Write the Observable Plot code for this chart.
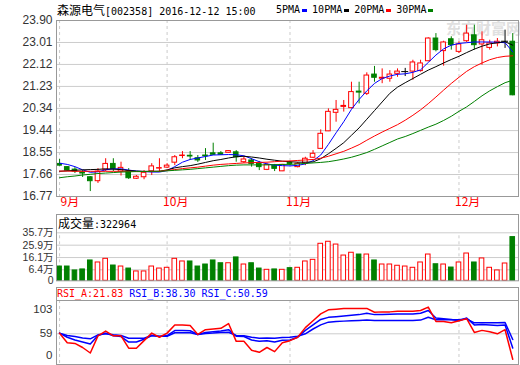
<!DOCTYPE html>
<html><head><meta charset="utf-8">
<script src="https://cdn.jsdelivr.net/npm/d3@7"></script>
<script src="https://cdn.jsdelivr.net/npm/@observablehq/plot@0.6"></script>
<style>
html,body{margin:0;padding:0;background:#fff;}
#chart{position:relative;width:520px;height:365px;overflow:hidden;background:#fff;}
#chart svg{position:absolute;left:0;overflow:visible;}
.t{position:absolute;white-space:nowrap;font-family:"DejaVu Sans Mono",monospace;font-size:10px;line-height:14px;color:#000;}
.cjk{font-family:"Noto Sans CJK SC",sans-serif;font-size:12px;}
.mk{display:inline-block;width:5px;height:3px;margin:0 5px 0 2px;vertical-align:middle;}
.box{position:absolute;border:1px solid #999;box-sizing:border-box;}
.wm{position:absolute;font-family:"Noto Sans CJK SC",sans-serif;font-weight:bold;font-size:15px;color:#e0e0e0;white-space:nowrap;}
</style></head>
<body><div id="chart"></div>
<script>
// ---------- data ----------
const stockName = "森源电气";
const stockInfo = "[002358] 2016-12-12 15:00";
const maNames = ["5PMA", "10PMA", "20PMA", "30PMA"];
const monthLabels = ["9月", "10月", "11月", "12月"];
const monthStart = [0, 14, 30, 52];
const priceTicks = [23.90, 23.01, 22.12, 21.23, 20.34, 19.44, 18.55, 17.66, 16.77];

const opens  = [18.09,17.96,17.86,17.74,17.55,17.39,17.85,18.09,17.78,17.78,17.49,17.55,17.79,17.90,17.94,18.14,18.41,18.42,18.32,18.43,18.52,18.52,18.54,18.56,18.16,18.23,18.09,17.85,18.02,17.79,18.14,17.96,18.11,18.34,18.70,19.41,20.16,20.40,20.35,21.02,20.93,21.71,21.54,21.54,21.74,21.83,21.83,21.85,22.25,23.17,22.66,23.14,22.63,23.06,23.30,22.93,22.79,22.97,23.06,23.04];
const highs  = [18.27,17.98,17.94,17.82,17.58,17.90,18.30,18.30,18.16,17.90,17.62,17.82,18.10,18.30,18.10,18.43,18.59,18.59,18.43,18.71,18.93,18.59,18.63,18.63,18.39,18.31,18.19,18.11,18.07,18.07,18.19,18.15,18.36,18.63,19.47,20.32,20.66,20.66,21.40,21.40,21.78,22.04,21.94,21.87,21.94,21.96,22.29,22.29,23.20,23.37,23.06,23.24,23.04,23.71,23.71,23.44,23.10,23.17,23.51,23.37];
const lows   = [18.00,17.78,17.70,17.54,16.97,17.30,17.78,17.78,17.60,17.46,17.46,17.45,17.62,17.75,17.90,18.02,18.30,18.23,18.15,18.23,18.43,18.43,18.53,18.16,18.11,17.96,17.82,17.82,17.78,17.78,18.02,17.93,18.02,18.31,18.70,19.40,19.78,20.19,20.32,20.52,20.86,21.40,21.34,21.40,21.60,21.63,21.48,21.81,22.23,22.63,22.05,22.70,22.56,23.01,22.70,22.09,22.70,22.83,22.77,20.85];
const closes = [18.02,17.82,17.78,17.70,17.39,17.78,18.09,17.89,17.93,17.51,17.57,17.73,17.99,17.92,18.02,18.36,18.43,18.39,18.23,18.40,18.46,18.46,18.61,18.36,18.27,18.09,17.96,18.05,17.89,18.05,18.09,18.09,18.30,18.50,19.31,20.20,20.28,20.44,21.00,20.98,21.67,21.58,21.58,21.71,21.83,21.83,22.20,22.16,23.17,22.70,23.01,22.90,22.93,23.37,22.90,23.10,22.97,23.04,23.06,20.87];

const ma5  = [18.12,18.07,17.98,17.85,17.75,17.77,17.85,17.89,17.89,17.84,17.80,17.78,17.76,17.76,17.82,17.98,18.16,18.27,18.33,18.39,18.45,18.46,18.47,18.46,18.42,18.30,18.18,18.09,18.04,18.02,18.01,18.03,18.09,18.22,18.45,18.88,19.35,19.80,20.30,20.70,21.05,21.35,21.55,21.65,21.72,21.74,21.80,21.90,22.20,22.50,22.75,22.90,22.97,23.00,23.03,23.03,23.03,23.02,23.00,22.63];
const ma10 = [17.79,17.81,17.83,17.85,17.86,17.87,17.89,17.88,17.86,17.82,17.80,17.79,17.79,17.79,17.85,17.93,17.98,18.02,18.08,18.15,18.22,18.27,18.33,18.38,18.40,18.37,18.33,18.28,18.24,18.20,18.18,18.16,18.16,18.17,18.30,18.50,18.72,18.95,19.25,19.55,19.90,20.25,20.60,20.95,21.20,21.38,21.55,21.72,21.89,22.03,22.18,22.32,22.45,22.60,22.74,22.86,22.95,23.00,23.04,22.90];
const ma20 = [17.80,17.80,17.79,17.79,17.79,17.79,17.79,17.79,17.79,17.79,17.78,17.78,17.78,17.79,17.83,17.86,17.90,17.93,17.96,18.00,18.04,18.07,18.09,18.11,18.13,18.14,18.15,18.16,18.18,18.20,18.21,18.23,18.25,18.27,18.32,18.40,18.50,18.60,18.73,18.87,19.05,19.22,19.38,19.53,19.68,19.86,20.06,20.28,20.53,20.80,21.08,21.35,21.60,21.84,22.03,22.18,22.31,22.40,22.45,22.47];
const ma30 = [17.53,17.57,17.60,17.64,17.67,17.70,17.72,17.74,17.76,17.77,17.78,17.78,17.79,17.79,17.81,17.83,17.85,17.87,17.90,17.93,17.96,17.99,18.02,18.04,18.05,18.05,18.05,18.05,18.06,18.07,18.07,18.09,18.11,18.13,18.15,18.18,18.23,18.29,18.36,18.45,18.55,18.68,18.82,18.96,19.10,19.20,19.32,19.45,19.58,19.70,19.85,20.02,20.22,20.40,20.62,20.85,21.05,21.22,21.38,21.48];

const volumes = [9.0,9.0,5.9,6.7,13.8,12.2,15.1,9.8,9.0,7.4,5.1,5.1,9.0,7.4,8.0,15.1,13.0,13.0,9.0,10.6,13.8,11.6,11.6,16.2,10.6,11.6,7.4,6.4,6.7,6.4,7.7,8.0,13.0,14.3,27.0,28.6,26.4,17.7,19.9,18.5,18.5,13.8,10.6,10.6,9.6,9.0,8.0,12.2,18.5,10.8,10.6,8.2,12.2,19.3,12.2,15.4,8.0,5.9,11.4,32.3];
const volTicks = [35.7, 25.9, 16.1, 6.4];
const volTickLabels = ["35.7万", "25.9万", "16.1万", "6.4万"];
const volTitle = "成交量";
const volLast = ":322964";

const rsiA = [59.9,46,45,39,31,56,63,56,56,38,38,49,60,54,60,72,72,71,58,65,66,67,74,48,48,35,32,39,33,46,49,54,68,78,88,94,95,96,96,96,96,90.5,91,91,92,92,92,93,98,77,77,75,78,81,61,64,62,59,65,21.83];
const rsiB = [59.9,54,50,47,44,56.5,60,56,55,47,47,51,56.5,55,56.5,63.8,63.8,63.5,58,61,62,63,65,55.5,55,50,48,49,47,49.5,50,54,64,72,80,83,84,85,86,87,89,87,87,87.5,88,88,88,89,93,82,81,80,78,82,72,72.5,72,71,72,38.30];
const rsiC = [59.9,56.5,55,53,51.7,57.5,59,57.5,56.5,52.6,52.6,52.6,56.5,55.5,55.5,60.5,60.5,60.5,58,59.5,60,61,61.3,56.5,56,54,52.6,53,52.6,53.5,54,55.5,59,66,72,76,77,77.5,78,78.4,79,78.4,78.4,78.4,78.4,78.4,78.4,79,83.2,79.4,79.4,79.4,79.4,80.9,75,75,75,75,75.5,50.59];
const rsiNames = ["RSI_A", "RSI_B", "RSI_C"];
const rsiLast = ["21.83", "38.30", "50.59"];
const rsiTicks = [103, 59, 0];

// ---------- styles ----------
const RED = "#ff0000", GREEN = "#008000", BLUE = "#0000ff", BLACK = "#000000";
const maColors = [BLUE, BLACK, RED, GREEN];
const GRID = "#cccccc", FRAME = "#999999";
const HALF = 0.3;
const xDom = [-0.4, 59.75];
const DASH = "3,3";
const baseStyle = {fontFamily: "'Liberation Sans', Arial, sans-serif", fontSize: "12px", color: "#333", background: "transparent", overflow: "visible"};

const bars = closes.map((c, i) => ({i, o: opens[i], h: highs[i], l: lows[i], c, v: volumes[i]}));
const candleColor = d => d.c > d.o ? RED : (d.c < d.o ? GREEN : BLACK);
const volColor = d => d.c >= d.o ? RED : GREEN;
const months = monthStart.map((s, k) => ({s, label: monthLabels[k]}));

const chart = document.getElementById("chart");

// watermark
const wm = document.createElement("div");
wm.className = "wm"; wm.style.left = "446px"; wm.style.top = "17px"; wm.textContent = "东方财富网";
chart.appendChild(wm);

// ---------- price panel ----------
const monthText = {frameAnchor: "bottom", dy: 9, textAnchor: "start", fill: RED, fontFamily: "Noto Sans CJK SC", fontSize: 12};
const price = Plot.plot({
  width: 520, height: 210, marginTop: 20, marginBottom: 14, marginLeft: 56, marginRight: 2,
  style: baseStyle,
  x: {domain: xDom, axis: null},
  y: {domain: [16.77, 23.90], ticks: priceTicks, tickFormat: d3.format(".2f"), tickSize: 0, tickPadding: 4, label: null},
  marks: [
    Plot.ruleY(priceTicks, {stroke: GRID}),
    Plot.ruleX(monthStart, {stroke: GRID, strokeDasharray: DASH}),
    Plot.ruleX(bars, {x: "i", y1: "l", y2: "h", stroke: candleColor}),
    Plot.rect(bars, {x1: d => d.i - HALF, x2: d => d.i + HALF, y1: "o", y2: "c",
      fill: d => d.c > d.o ? "#ffffff" : candleColor(d), stroke: candleColor}),
    Plot.ruleY(bars.filter(d => d.o === d.c), {y: "c", x1: d => d.i - HALF - 0.15, x2: d => d.i + HALF + 0.15, stroke: BLACK}),
    ...[ma5, ma10, ma20, ma30].map((m, k) => Plot.line(m, {x: (d, i) => i, y: d => d, stroke: maColors[k], strokeWidth: 1})),
    Plot.text(months.slice(0, 1), {x: "s", text: "label", dx: 1, ...monthText}),
    Plot.text(months.slice(1), {x: "s", text: "label", dx: -4, ...monthText}),
    Plot.frame({stroke: FRAME})
  ]
});
price.style.top = "0px";
chart.appendChild(price);

// ---------- volume panel ----------
const VOL_FLOOR = -2.3;
const vol = Plot.plot({
  width: 520, height: 75, marginTop: 4, marginBottom: 4.7, marginLeft: 56, marginRight: 2,
  style: {...baseStyle, fontSize: "10.5px"},
  x: {domain: xDom, axis: null},
  y: {domain: [VOL_FLOOR, 35.7], range: [70.3, 22.3], axis: null},
  marks: [
    Plot.ruleY(volTicks, {stroke: GRID}),
    Plot.ruleX(monthStart, {y1: VOL_FLOOR, y2: 35.7, stroke: GRID, strokeDasharray: DASH}),
    Plot.rect(bars, {x1: d => d.i - HALF, x2: d => d.i + HALF, y1: () => VOL_FLOOR, y2: "v",
      fill: d => d.c >= d.o ? "#ffffff" : GREEN, stroke: volColor}),
    Plot.text(volTicks, {y: d => d, text: (d, i) => volTickLabels[i], frameAnchor: "left", dx: -3, textAnchor: "end",
      fontFamily: "'Liberation Sans', 'Noto Sans CJK SC', sans-serif"}),
    Plot.text([0], {y: d => d, text: d => String(d), frameAnchor: "left", dx: -3, dy: 3, textAnchor: "end"}),
    Plot.frame({stroke: FRAME})
  ]
});
vol.style.top = "210px";
chart.appendChild(vol);

// ---------- RSI panel ----------
const rsi = Plot.plot({
  width: 520, height: 65, marginTop: 0, marginBottom: 1, marginLeft: 56, marginRight: 2,
  style: {...baseStyle, fontSize: "11.5px"},
  x: {domain: xDom, axis: null},
  y: {domain: [14.2, 107.6], axis: null},
  marks: [
    Plot.ruleY([59], {stroke: GRID}),
    Plot.ruleX(monthStart, {stroke: GRID, strokeDasharray: DASH}),
    Plot.line(rsiC, {x: (d, i) => i, y: d => d, stroke: BLUE}),
    Plot.line(rsiB, {x: (d, i) => i, y: d => d, stroke: BLUE}),
    Plot.line(rsiA, {x: (d, i) => i, y: d => d, stroke: RED}),
    Plot.text([rsiTicks[0]], {y: d => d, text: d => String(d), frameAnchor: "left", dx: -4, dy: 6, textAnchor: "end"}),
    Plot.text([rsiTicks[1]], {y: d => d, text: d => String(d), frameAnchor: "left", dx: -4, textAnchor: "end"}),
    Plot.text([rsiTicks[2]], {y: d => d, text: d => String(d), frameAnchor: "left", dx: -4, dy: -18.7, textAnchor: "end"}),
    Plot.frame({stroke: FRAME})
  ]
});
rsi.style.top = "300px";
chart.appendChild(rsi);

// ---------- header texts ----------
function addDiv(cls, left, top, html) {
  const d = document.createElement("div");
  d.className = cls; d.style.left = left + "px"; d.style.top = top + "px"; d.innerHTML = html;
  chart.appendChild(d); return d;
}
addDiv("t", 57, 3, `<span class="cjk">${stockName}</span>${stockInfo}`);
addDiv("t", 276, 3, maNames.map((n, k) => `${n}<span class="mk" style="background:${maColors[k]}"></span>`).join(""));
addDiv("t", 58, 216, `<span class="cjk">${volTitle}</span>${volLast}`);
const box = addDiv("box", 56, 287, "");
box.style.width = "463px"; box.style.height = "14px";
const rsiColors = [RED, BLUE, BLUE];
addDiv("t", 57, 287, rsiNames.map((n, k) => `<span style="color:${rsiColors[k]}">${n}:${rsiLast[k]}</span>`).join(" "));
</script></body></html>
